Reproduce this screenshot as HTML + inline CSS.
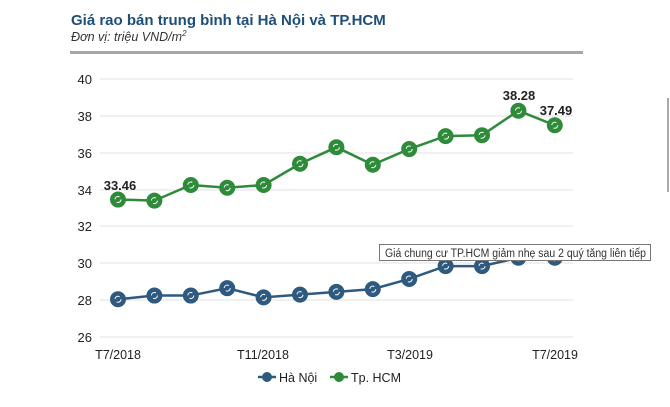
<!DOCTYPE html><html><head><meta charset="utf-8"><style>body{margin:0;background:#fff;width:670px;height:402px;overflow:hidden}svg text{font-family:"Liberation Sans",Arial,sans-serif}</style></head><body>
<svg width="670" height="402" xmlns="http://www.w3.org/2000/svg">
<text x="71" y="25" font-size="15" font-weight="bold" fill="#1f4e79">Giá rao bán trung bình tại Hà Nội và TP.HCM</text>
<text x="71" y="41" font-size="12.5" font-style="italic" fill="#333">Đơn vị: triệu VND/m<tspan font-size="8" dy="-5">2</tspan></text>
<rect x="70" y="51" width="513" height="3" fill="#a6a6a6"/>
<g stroke="#e6e6e6" stroke-width="1.2">
<line x1="100" x2="573" y1="79" y2="79"/><line x1="100" x2="573" y1="116" y2="116"/><line x1="100" x2="573" y1="153" y2="153"/><line x1="100" x2="573" y1="190" y2="190"/><line x1="100" x2="573" y1="226" y2="226"/><line x1="100" x2="573" y1="263" y2="263"/><line x1="100" x2="573" y1="300" y2="300"/><line x1="100" x2="573" y1="337" y2="337"/></g>
<g font-size="13" fill="#222" text-anchor="end">
<text x="92" y="84">40</text><text x="92" y="121">38</text><text x="92" y="158">36</text><text x="92" y="195">34</text><text x="92" y="231">32</text><text x="92" y="268">30</text><text x="92" y="305">28</text><text x="92" y="342">26</text></g>
<g font-size="12.5" fill="#222" text-anchor="middle">
<text x="118" y="359">T7/2018</text><text x="263" y="359">T11/2018</text><text x="410" y="359">T3/2019</text><text x="555" y="359">T7/2019</text></g>
<g id="g"></g>
<text x="120" y="190" font-size="13" font-weight="bold" fill="#222" text-anchor="middle">33.46</text>
<text x="519" y="100" font-size="13" font-weight="bold" fill="#222" text-anchor="middle">38.28</text>
<text x="556" y="115" font-size="13" font-weight="bold" fill="#222" text-anchor="middle">37.49</text>
<rect x="379.5" y="244.5" width="271" height="16" fill="#fff" stroke="#777"/>
<text x="385" y="257" font-size="11.5" fill="#333" textLength="261" lengthAdjust="spacingAndGlyphs">Giá chung cư TP.HCM giảm nhẹ sau 2 quý tăng liên tiếp</text>
<line x1="668" y1="98" x2="668" y2="192" stroke="#555" stroke-width="1"/>
<line x1="258" x2="276" y1="377" y2="377" stroke="#2e5a7f" stroke-width="2.5"/><circle cx="267" cy="377" r="5" fill="#2e5a7f"/>
<text x="279" y="382" font-size="12.5" fill="#222">Hà Nội</text>
<line x1="330" x2="348" y1="377" y2="377" stroke="#2e8b3a" stroke-width="2.5"/><circle cx="339" cy="377" r="5" fill="#2e8b3a"/>
<text x="351" y="382" font-size="12.5" fill="#222">Tp. HCM</text>
</svg>
<script>
var hn=[28.05,28.25,28.25,28.65,28.15,28.3,28.45,28.6,29.15,29.85,29.85,30.3,30.3];
var hc=[33.46,33.4,34.25,34.1,34.25,35.4,36.3,35.35,36.2,36.9,36.95,38.28,37.49];
function Y(v){return 79+(40-v)*18.43}function X(i){return 118+i*36.4}
var g=document.getElementById('g'),s='';
[[hn,'#2e5a7f'],[hc,'#2e8b3a']].forEach(function(a){var p=a[0].map(function(v,i){return X(i)+','+Y(v)}).join(' ');
s+='<polyline points="'+p+'" fill="none" stroke="'+a[1]+'" stroke-width="2.5"/>';
a[0].forEach(function(v,i){s+='<circle cx="'+X(i)+'" cy="'+Y(v)+'" r="8" fill="'+a[1]+'"/><circle cx="'+X(i)+'" cy="'+Y(v)+'" r="3" fill="none" stroke="#fff" stroke-width="1" stroke-dasharray="6 3.4"/>';});});
g.innerHTML=s;
</script>
</body></html>
